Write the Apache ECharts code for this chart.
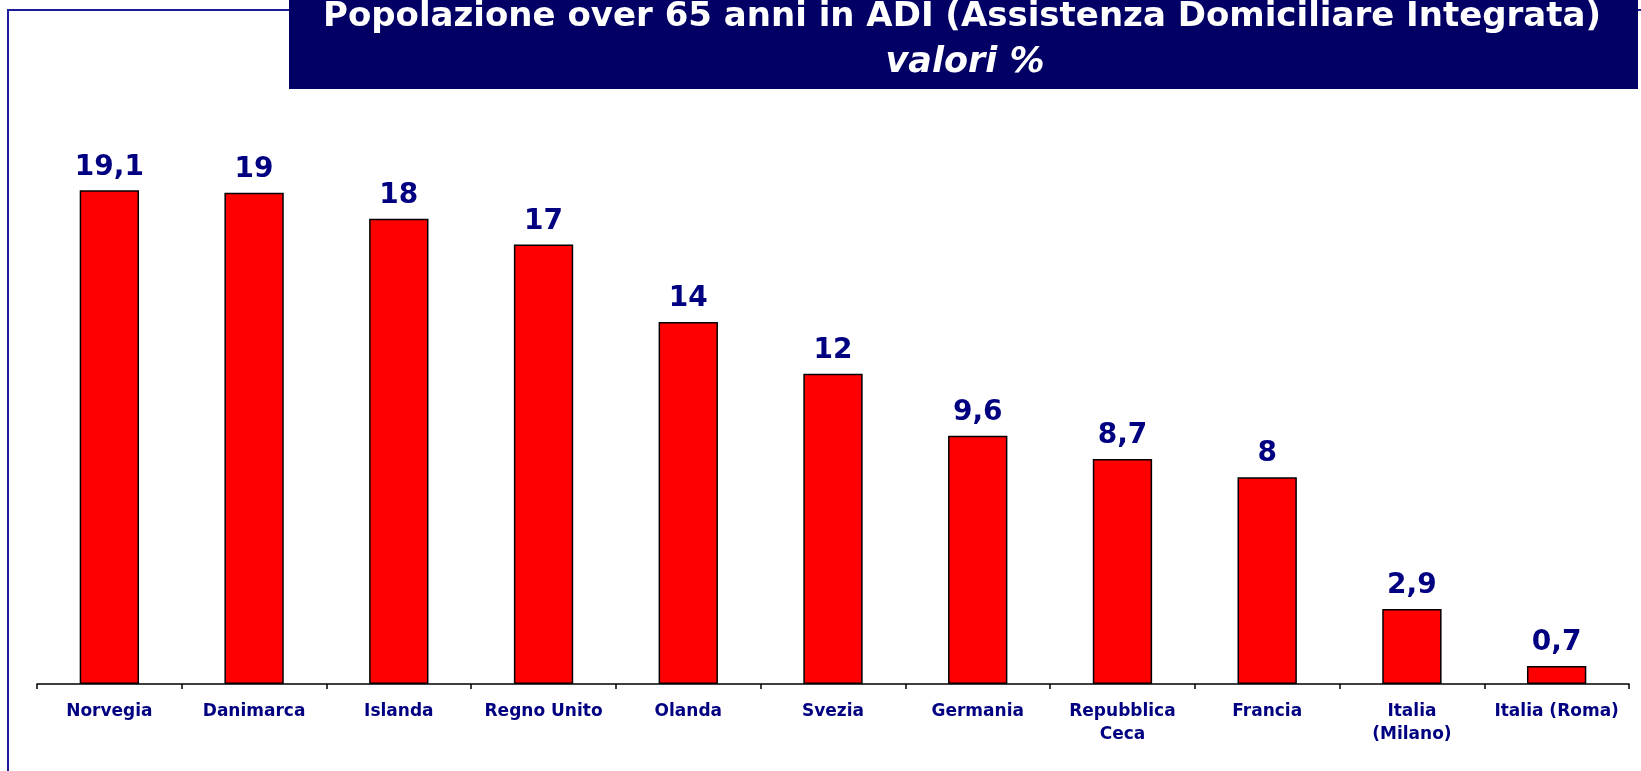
<!DOCTYPE html>
<html>
<head>
<meta charset="utf-8">
<script src="https://cdn.jsdelivr.net/npm/echarts@6/dist/echarts.min.js"></script>
<style>
html, body { margin: 0; padding: 0; background: #fff; }
#chart { width: 1641px; height: 771px; }
</style>
</head>
<body>
<div id="chart"></div>
<script>
var countries = ['Norvegia', 'Danimarca', 'Islanda', 'Regno Unito', 'Olanda', 'Svezia',
	'Germania', 'Repubblica\nCeca', 'Francia', 'Italia\n(Milano)', 'Italia (Roma)'];
var adiValues = [19.1, 19, 18, 17, 14, 12, 9.6, 8.7, 8, 2.9, 0.7];
var titleText = 'Popolazione over 65 anni in ADI (Assistenza Domiciliare Integrata)';
var subtitleText = 'valori %';

var navy = '#000080';
var fontName = '"DejaVu Sans", Verdana, sans-serif';

var chart = echarts.init(document.getElementById('chart'));

var option = {
	animation: false,
	backgroundColor: '#fff',
	grid: {
		left: 37,
		right: 12,
		top: 167,
		bottom: 87
	},
	xAxis: {
		type: 'category',
		data: countries,
		axisLine: { lineStyle: { color: '#000', width: 1.5 } },
		axisTick: { show: true, length: 5, lineStyle: { color: '#000', width: 1.5 } },
		axisLabel: {
			interval: 0,
			margin: 16,
			color: navy,
			fontFamily: fontName,
			fontWeight: 'bold',
			fontSize: 17,
			lineHeight: 23
		}
	},
	yAxis: {
		type: 'value',
		min: 0,
		max: 20,
		show: false
	},
	graphic: [
		{
			// cornice blu
			type: 'rect',
			z: 1,
			shape: { x: 8, y: 10, width: 1660, height: 800 },
			style: { fill: null, stroke: '#1c1c9c', lineWidth: 2 }
		},
		{
			type: 'rect',
			z: 2,
			shape: { x: 289, y: 0, width: 1349, height: 89 },
			style: { fill: '#020064' }
		},
		{
			type: 'text',
			z: 3,
			style: {
				x: 962,
				y: 17,
				text: titleText,
				textAlign: 'center',
				textVerticalAlign: 'middle',
				fill: '#fff',
				font: 'bold 34px ' + fontName
			}
		},
		{
			type: 'text',
			z: 3,
			style: {
				x: 965,
				y: 63,
				text: subtitleText,
				textAlign: 'center',
				textVerticalAlign: 'middle',
				fill: '#fff',
				font: 'italic bold 35px ' + fontName
			}
		}
	],
	series: [{
		type: 'bar',
		data: adiValues,
		barWidth: '41%',
		itemStyle: {
			color: '#ff0000',
			borderColor: '#000',
			borderWidth: 1.5
		},
		label: {
			show: true,
			position: 'top',
			distance: 9,
			color: navy,
			fontFamily: fontName,
			fontWeight: 'bold',
			fontSize: 28,
			formatter: function (p) {
				return String(p.value).replace('.', ',');
			}
		}
	}]
};

chart.setOption(option);
</script>
</body>
</html>
